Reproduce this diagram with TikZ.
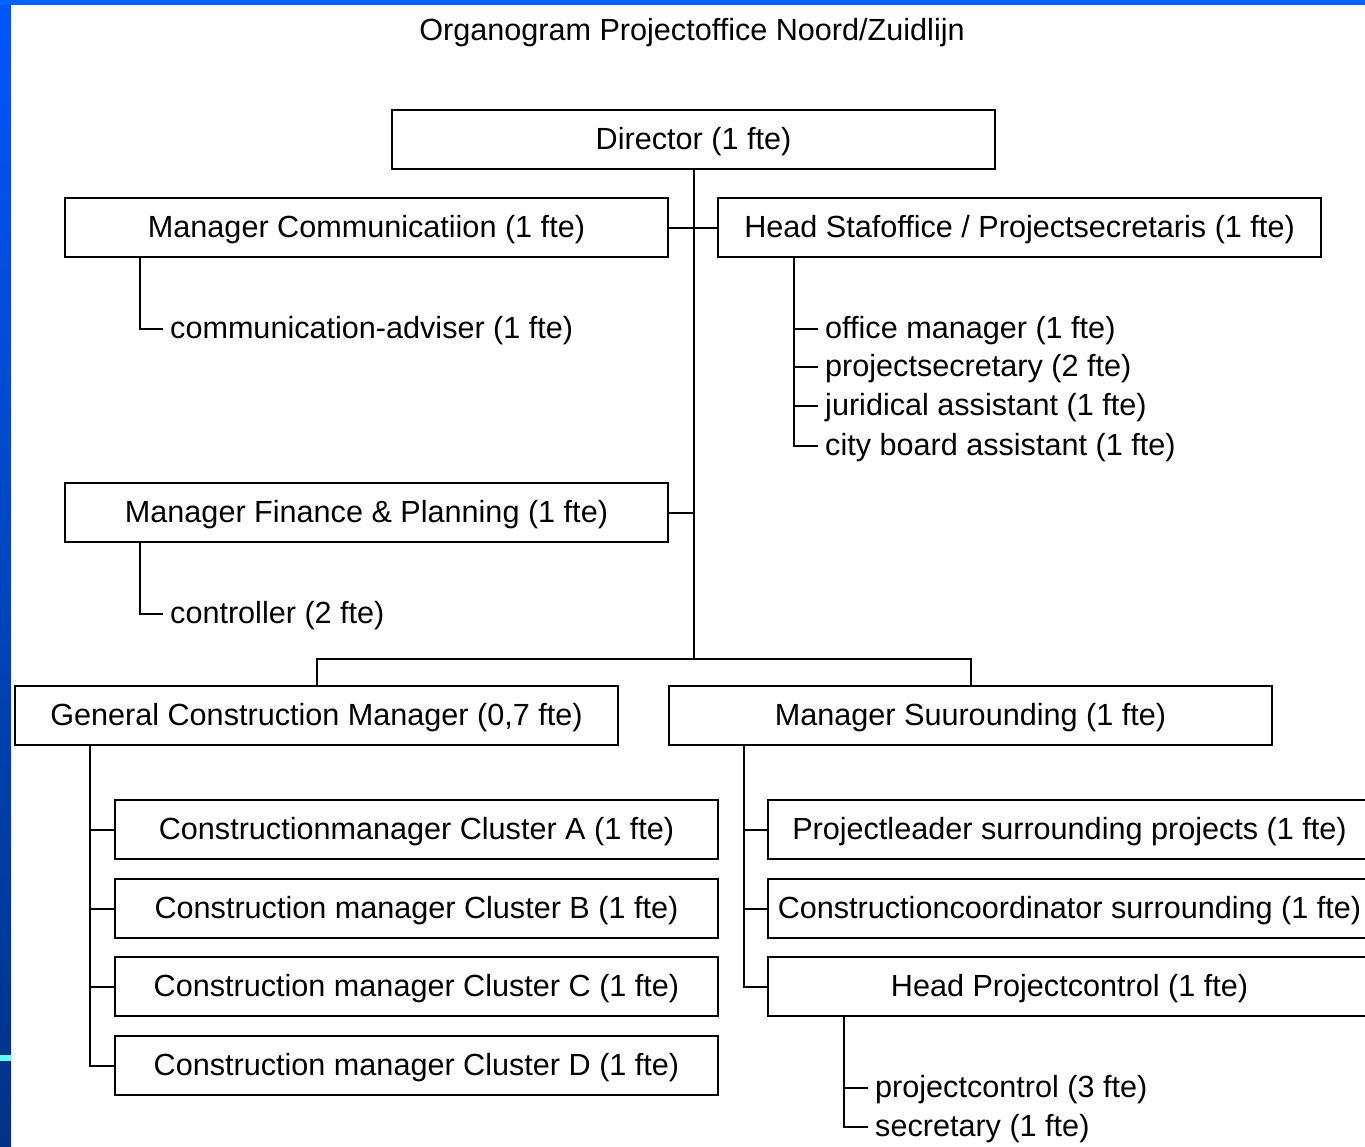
\documentclass[tikz,border=0pt]{standalone}
\usepackage{fontspec}
\setmainfont{Liberation Sans}
\definecolor{stripetop}{RGB}{0,86,255}
\definecolor{stripemid}{RGB}{0,70,190}
\definecolor{stripebot}{RGB}{0,50,135}
\definecolor{topbar}{RGB}{0,98,255}
\definecolor{cyanmark}{RGB}{100,250,255}
\begin{document}
\begin{tikzpicture}[x=1pt,y=-1pt,
  every node/.style={font=\fontsize{30.6}{36}\selectfont,text height=29pt,text depth=10pt},
  orgbox/.style={draw,line width=2pt,minimum width=603pt,minimum height=59pt,inner sep=0pt},
  leaf/.style={anchor=west,inner xsep=7pt,inner ysep=0pt},
  link/.style={line width=2pt}]
\useasboundingbox (0,0) rectangle (1365,1146);
\fill[white] (0,0) rectangle (1365,1146);
% frame decorations
\shade[top color=stripetop,bottom color=stripebot,middle color=stripemid] (0,0) rectangle (11,1146);
\fill[topbar] (0,0) rectangle (1365,5);
\fill[cyanmark] (0,1055) rectangle (11,1061);
% title
\node (title) at (692,31) {Organogram Projectoffice Noord/Zuidlijn};
% boxes
\node[orgbox] (dir) at (693.5,139.5) {Director (1 fte)};
\node[orgbox] (mc) at (366.5,227.5) {Manager Communicatiion (1 fte)};
\node[orgbox] (hs) at (1019.5,227.5) {Head Stafoffice / Projectsecretaris (1 fte)};
\node[orgbox] (mf) at (366.5,512.5) {Manager Finance \& Planning (1 fte)};
\node[orgbox] (gcm) at (316.5,715.5) {General Construction Manager (0,7 fte)};
\node[orgbox] (ms) at (970.5,715.5) {Manager Suurounding (1 fte)};
\node[orgbox] (ca) at (416.5,829.5) {Constructionmanager Cluster A (1 fte)};
\node[orgbox] (cb) at (416.5,908.5) {Construction manager Cluster B (1 fte)};
\node[orgbox] (cc) at (416.5,986.5) {Construction manager Cluster C (1 fte)};
\node[orgbox] (cd) at (416.5,1065.5) {Construction manager Cluster D (1 fte)};
\node[orgbox] (pl) at (1069.5,829.5) {Projectleader surrounding projects (1 fte)};
\node[orgbox] (cs) at (1069.5,908.5) {Constructioncoordinator surrounding (1 fte)};
\node[orgbox] (hp) at (1069.5,986.5) {Head Projectcontrol (1 fte)};
% leaf texts
\node[leaf] (adv) at (163,329) {communication-adviser (1 fte)};
\node[leaf] (ctl) at (163,614) {controller (2 fte)};
\node[leaf] (om) at (818,329) {office manager (1 fte)};
\node[leaf] (ps) at (818,367) {projectsecretary (2 fte)};
\node[leaf] (ja) at (818,406) {juridical assistant (1 fte)};
\node[leaf] (cba) at (818,446) {city board assistant (1 fte)};
\node[leaf] (pc) at (868,1088) {projectcontrol (3 fte)};
\node[leaf] (sec) at (868,1127) {secretary (1 fte)};
% helper coordinates
\coordinate (jn) at (693.5,659);
\coordinate (cx) at (140,0);
\coordinate (hx) at (794,0);
\coordinate (gx) at (90,0);
\coordinate (mx) at (744,0);
\coordinate (px) at (844,0);
% connectors
\draw[link] (dir.south) -- (jn);
\draw[link] (mc.east) -- (hs.west);
\draw[link] (mf.east) -- (mf.east -| dir.south);
\draw[link] (gcm.north) |- (jn) -| (ms.north);
\draw[link] (mc.south -| cx) |- (adv.west);
\draw[link] (mf.south -| cx) |- (ctl.west);
\draw[link] (hs.south -| hx) |- (cba.west);
\draw[link] (om.west) -- (om.west -| hx);
\draw[link] (ps.west) -- (ps.west -| hx);
\draw[link] (ja.west) -- (ja.west -| hx);
\draw[link] (gcm.south -| gx) |- (cd.west);
\draw[link] (ca.west) -- (ca.west -| gx);
\draw[link] (cb.west) -- (cb.west -| gx);
\draw[link] (cc.west) -- (cc.west -| gx);
\draw[link] (ms.south -| mx) |- (hp.west);
\draw[link] (pl.west) -- (pl.west -| mx);
\draw[link] (cs.west) -- (cs.west -| mx);
\draw[link] (hp.south -| px) |- (sec.west);
\draw[link] (pc.west) -- (pc.west -| px);
\end{tikzpicture}
\end{document}
